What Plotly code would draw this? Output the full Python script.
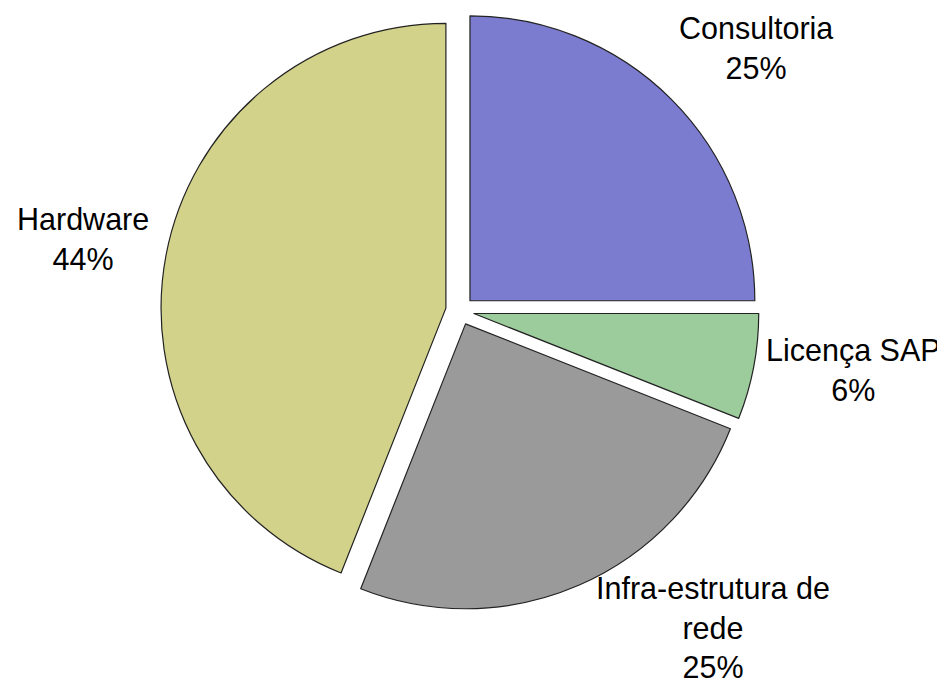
import plotly.graph_objects as go

# dados
categorias = ["Consultoria", "Licença SAP", "Infra-estrutura de<br>rede", "Hardware"]
valores = [25, 6, 25, 44]

CORES = ["#7b7bd0", "#9ccc9c", "#9a9a9a", "#d2d28a"]
W, H = 945, 684

# posição (px) do centro de cada rótulo
POS_ROTULOS = [(748, 40), (845, 362), (705, 619), (75, 231)]

fig = go.Figure(go.Pie(
    labels=categorias,
    values=valores,
    sort=False,
    direction="clockwise",
    rotation=0,
    pull=[0.05, 0.05, 0.05, 0.05],
    marker=dict(colors=CORES, line=dict(color="#222222", width=1.2)),
    textposition="none",
    domain=dict(x=[0.1617, 0.7947], y=[0.1198, 0.9948]),
    showlegend=False,
    hoverinfo="label+percent",
))

# rótulos externos (nome + percentual)
total = sum(valores)
for cat, v, (px, py) in zip(categorias, valores, POS_ROTULOS):
    fig.add_annotation(
        x=px / W, y=1 - py / H,
        xref="paper", yref="paper",
        text=f"{cat}<br>{v / total * 100:.0f}%",
        showarrow=False,
        xanchor="center", yanchor="middle",
        align="center",
        font=dict(family="Liberation Sans, Arial", size=30.5, color="black"),
    )

fig.update_layout(
    width=W,
    height=H,
    paper_bgcolor="white",
    plot_bgcolor="white",
    margin=dict(l=0, r=0, t=0, b=0),
)

fig.write_html("out.html")
